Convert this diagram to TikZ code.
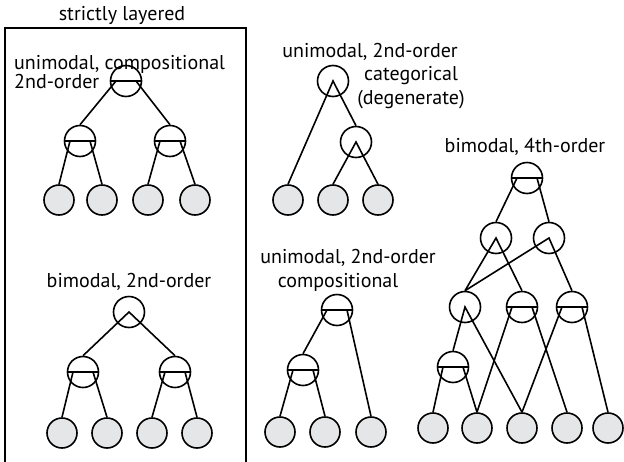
\documentclass[tikz,border=0pt]{standalone}
\usepackage{fontspec}
\setmainfont{PT Sans}
\usepackage{tikz}
\usetikzlibrary{positioning}
\definecolor{leafgray}{RGB}{229,230,231}
\tikzstyle{leaf} = [draw,circle,line width=1.6pt,fill=leafgray,minimum size=30pt,inner sep=0pt]
\tikzstyle{ornode} = [draw,circle,line width=1.6pt,minimum size=31pt,inner sep=0pt]
\tikzstyle{andnode} = [ornode,path picture={\draw[line width=1.6pt] (path picture bounding box.west) -- (path picture bounding box.east);}]
\tikzstyle{edge} = [line width=1.6pt]
\tikzstyle{lbl} = [font=\fontsize{20}{19.5}\selectfont,inner sep=0pt]

\begin{document}
\begin{tikzpicture}[x=1pt,y=-1pt]
            \useasboundingbox (0,0) rectangle (624,461);
            % strictly layered box
            \draw[line width=1.6pt] (5,470) -- (5,28) -- (246,28) -- (246,470);
            \node[lbl] (box) at (122,15) {strictly layered};
            % unimodal, compositional 2nd-order
            \node[lbl,align=left,anchor=west] (clbl) at (14,72) {unimodal, compositional\\2nd-order};
            \draw (126,81) node[andnode] (ct) {};
            \draw (80,141) node[andnode] (cl) {};
            \draw (170,141) node[andnode] (cr) {};
            \draw (59,200) node[leaf] (c1) {};
            \draw (102,200) node[leaf] (c2) {};
            \draw (148,200) node[leaf] (c3) {};
            \draw (195,200) node[leaf] (c4) {};
            \draw[edge] ([xshift=-10pt]ct.center) -- (cl.north);
            \draw[edge] ([xshift=10pt]ct.center) -- (cr.north);
            \draw[edge] ([xshift=-10pt]cl.center) -- (c1.north);
            \draw[edge] ([xshift=10pt]cl.center) -- (c2.north);
            \draw[edge] ([xshift=-10pt]cr.center) -- (c3.north);
            \draw[edge] ([xshift=10pt]cr.center) -- (c4.north);
            % bimodal, 2nd-order
            \node[lbl] (blbl) at (129,282) {bimodal, 2nd-order};
            \draw (129,312) node[ornode] (bt) {};
            \draw (83,372) node[andnode] (bl) {};
            \draw (175,372) node[andnode] (br) {};
            \draw (62,433) node[leaf] (b1) {};
            \draw (107,433) node[leaf] (b2) {};
            \draw (152,433) node[leaf] (b3) {};
            \draw (197,433) node[leaf] (b4) {};
            \draw[edge] (bl.north) -- (bt.center) -- (br.north);
            \draw[edge] ([xshift=-10pt]bl.center) -- (b1.north);
            \draw[edge] ([xshift=10pt]bl.center) -- (b2.north);
            \draw[edge] ([xshift=-10pt]br.center) -- (b3.north);
            \draw[edge] ([xshift=10pt]br.center) -- (b4.north);
            % unimodal, 2nd-order categorical
            \node[lbl] (glbl) at (370,52) {unimodal, 2nd-order};
            \node[lbl,align=center,font=\fontsize{20}{24}\selectfont] (glbl2) at (411,88) {categorical\\(degenerate)};
            \draw (333,81) node[ornode] (gt) {};
            \draw (356,142) node[ornode] (gm) {};
            \draw (288,200) node[leaf] (g1) {};
            \draw (333,200) node[leaf] (g2) {};
            \draw (378,200) node[leaf] (g3) {};
            \draw[edge] (g1.north) -- (gt.center) -- (gm.north);
            \draw[edge] (g2.north) -- (gm.center) -- (g3.north);
            % unimodal, 2nd-order compositional
            \node[lbl] (ulbl) at (348,258) {unimodal, 2nd-order};
            \node[lbl] (ulbl2) at (338,282) {compositional};
            \draw (337,310) node[andnode] (ut) {};
            \draw (303,370) node[andnode] (um) {};
            \draw (280,432) node[leaf] (u1) {};
            \draw (325,432) node[leaf] (u2) {};
            \draw (371,432) node[leaf] (u3) {};
            \draw[edge] ([xshift=-10pt]ut.center) -- (um.north);
            \draw[edge] ([xshift=10pt]ut.center) -- (u3.north);
            \draw[edge] ([xshift=-10pt]um.center) -- (u1.north);
            \draw[edge] ([xshift=10pt]um.center) -- (u2.north);
            % bimodal, 4th-order
            \node[lbl] (qlbl) at (525,147) {bimodal, 4th-order};
            \draw (527,178) node[andnode] (qt) {};
            \draw (496,238) node[ornode] (qa) {};
            \draw (549,238) node[ornode] (qb) {};
            \draw (465,307) node[ornode] (qc) {};
            \draw (522,307) node[andnode] (qd) {};
            \draw (572,307) node[andnode] (qe) {};
            \draw (453,367) node[andnode] (qf) {};
            \draw (433,428) node[leaf] (q1) {};
            \draw (477,428) node[leaf] (q2) {};
            \draw (522,428) node[leaf] (q3) {};
            \draw (567,428) node[leaf] (q4) {};
            \draw (608,428) node[leaf] (q5) {};
            \draw[edge] ([xshift=-10pt]qt.center) -- (qa.north);
            \draw[edge] ([xshift=10pt]qt.center) -- (qb.north);
            \draw[edge] (qc.north) -- (qa.center) -- (qd.north);
            \draw[edge] (qc.north) -- (qb.center) -- (qe.north);
            \draw[edge] (qf.north) -- (qc.center) -- (q3.north);
            \draw[edge] ([xshift=-10pt]qd.center) -- (q2.north);
            \draw[edge] ([xshift=10pt]qd.center) -- (q4.north);
            \draw[edge] ([xshift=-10pt]qe.center) -- (q3.north);
            \draw[edge] ([xshift=10pt]qe.center) -- (q5.north);
            \draw[edge] ([xshift=-10pt]qf.center) -- (q1.north);
            \draw[edge] ([xshift=10pt]qf.center) -- (q2.north);
\end{tikzpicture}
\end{document}
